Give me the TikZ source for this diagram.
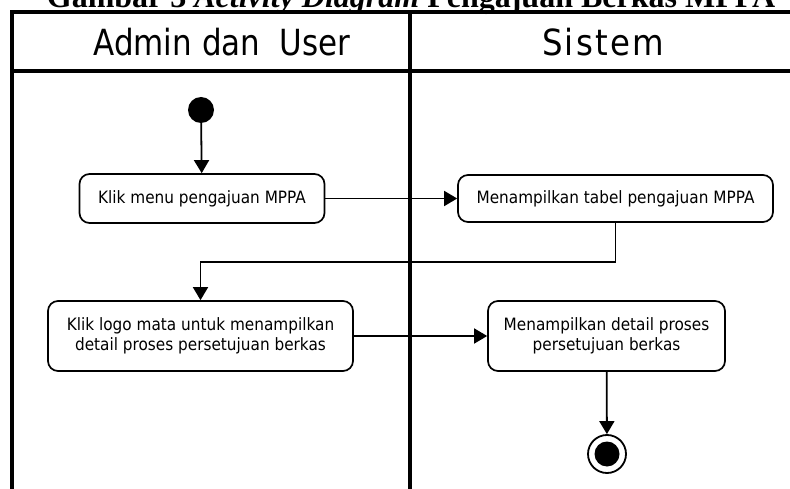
\documentclass[tikz,border=0pt]{standalone}
\usepackage{fontspec}
\usepackage{tikz}
\usetikzlibrary{arrows.meta,positioning,shapes}
\newfontfamily\dejavu[FakeStretch=0.9]{DejaVu Sans}
\newfontfamily\kepalafont[FakeStretch=0.86]{DejaVu Sans}
\newfontfamily\sistemfont[FakeStretch=0.9,LetterSpace=6]{DejaVu Sans}
\newfontfamily\judulfont{Liberation Serif}

\begin{document}
\begin{tikzpicture}[x=1pt,y=-1pt,
        lajur/.style={line width=3.4pt},
        kepala/.style={font=\kepalafont\fontsize{36}{36}\selectfont},
        akt/.style={draw,line width=1.7pt,rounded corners=10pt,align=center,inner sep=0pt,
                    font=\dejavu\fontsize{17}{20.5}\selectfont},
        panah/.style={line width=1.8pt,-{Triangle[length=13pt,width=15pt]}},
        mulai/.style={circle,fill,minimum size=26pt,inner sep=0pt},
        selesai/.style={circle,draw,line width=1.8pt,minimum size=38pt,inner sep=0pt,
                    path picture={\fill (path picture bounding box.center) circle (12.5pt);}}]
        \useasboundingbox (0,0) rectangle (790,489);
        \clip (0,0) rectangle (790,489);

        \node[anchor=base,font=\judulfont\bfseries\fontsize{32}{32}\selectfont] (gambar) at (411,8)
             {Gambar 3 \textit{Activity Diagram} Pengajuan Berkas MPPA};

        \draw[lajur] (12,495) -- (12,12) -- (795,12);
        \draw[lajur] (12,71) -- (795,71);
        \draw[lajur] (410,12) -- (410,495);
        \node[kepala] (admin) at (222,42) {Admin dan\ \ User};
        \node[kepala,font=\sistemfont\fontsize{36}{36}\selectfont] (sistem) at (603,42) {Sistem};

        \node[mulai] (mulai) at (201,110) {};
        \node[akt,minimum width=245pt,minimum height=49pt] (klik) at (202,198.5) {Klik menu pengajuan MPPA};
        \node[akt,minimum width=315pt,minimum height=47pt] (tabel) at (615.5,198.5) {Menampilkan tabel pengajuan MPPA};
        \node[akt,minimum width=305pt,minimum height=70pt] (logo) at (200.5,336)
             {Klik logo mata untuk menampilkan\\detail proses persetujuan berkas};
        \node[akt,minimum width=237pt,minimum height=70pt] (detail) at (606.5,336)
             {Menampilkan detail proses\\persetujuan berkas};
        \node[selesai] (selesai) at (607,454) {};
        \coordinate (belok) at (0,262);

        \draw[panah] (mulai) -- (klik);
        \draw[panah] (klik) -- (tabel);
        \draw[panah] (tabel.south) |- (belok -| logo.north) -- (logo.north);
        \draw[panah] (logo) -- (detail);
        \draw[panah] (detail) -- (selesai);
\end{tikzpicture}
\end{document}
